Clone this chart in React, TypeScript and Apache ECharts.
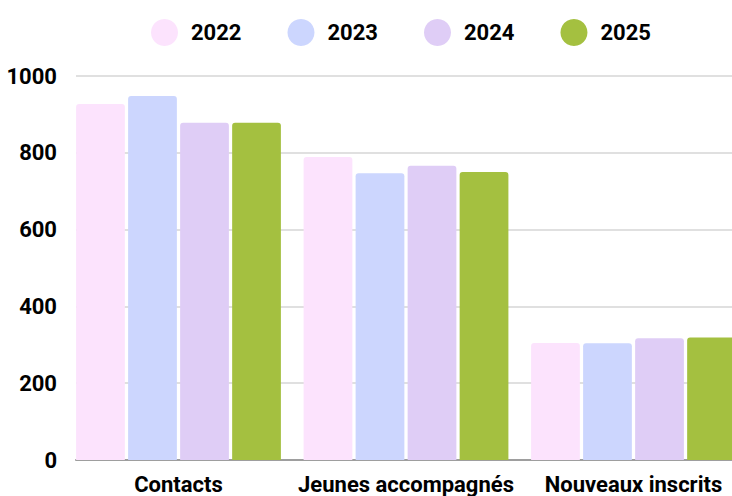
import React, { useEffect, useRef } from "react";
import * as echarts from "echarts";

const categories = ["Contacts", "Jeunes accompagnés", "Nouveaux inscrits"];
const years = ["2022", "2023", "2024", "2025"];
const values2022 = [927, 789, 305];
const values2023 = [948, 747, 304];
const values2024 = [878, 766, 317];
const values2025 = [878, 750, 319];
const colors = ["#FCE3FD", "#CCD6FE", "#DFCDF6", "#A4C040"];

const FONT = "Roboto, sans-serif";
const FS = 22;

export default function App() {
  const ref = useRef<HTMLDivElement>(null);
  useEffect(() => {
    if (!ref.current) return;
    const chart = echarts.init(ref.current, undefined, { renderer: "svg" });
    const seriesData = [values2022, values2023, values2024, values2025];
    chart.setOption({
      animation: false,
      textStyle: { fontFamily: FONT },
      legend: {
        data: years,
        left: 146,
        top: 14,
        icon: "circle",
        itemWidth: 27,
        itemHeight: 27,
        itemGap: 46,
        textStyle: {
          fontFamily: FONT,
          fontWeight: "bold",
          fontSize: FS,
          color: "#000",
          padding: [0, 0, 0, 8],
        },
      },
      grid: [
        { left: 76, right: 0, top: 76, bottom: 36, containLabel: false, outerBoundsMode: "none" },
        { left: 64.75, right: -15.25, top: 76, bottom: 36, containLabel: false, outerBoundsMode: "none" },
      ],
      xAxis: [
        {
          type: "category",
          gridIndex: 0,
          data: categories,
          axisLine: { show: true, lineStyle: { color: "#9e9e9e", width: 2 } },
          axisTick: { show: false },
          axisLabel: { show: false },
        },
        {
          type: "category",
          gridIndex: 1,
          data: categories,
          axisLine: { show: false },
          axisTick: { show: false },
          axisLabel: {
            interval: 0,
            fontFamily: FONT,
            fontWeight: "bold",
            fontSize: FS,
            color: "#000",
            margin: 13,
          },
        },
      ],
      yAxis: [
        {
          type: "value",
          gridIndex: 0,
          min: 0,
          max: 1000,
          interval: 200,
          axisLine: { show: false },
          axisTick: { show: false },
          axisLabel: {
            formatter: (v: number) => String(v),
            fontFamily: FONT,
            fontWeight: "bold",
            fontSize: FS,
            color: "#000",
            margin: 19,
          },
          splitLine: { lineStyle: { color: "#d6d6d6", width: 1.5 } },
        },
        {
          type: "value",
          gridIndex: 1,
          min: 0,
          max: 1000,
          interval: 200,
          show: false,
          splitLine: { show: false },
        },
      ],
      series: years.map((y, i) => ({
        name: y,
        type: "bar",
        xAxisIndex: 1,
        yAxisIndex: 1,
        data: seriesData[i],
        barWidth: 48.75,
        barGap: "6.7%",
        itemStyle: { color: colors[i], borderRadius: [3, 3, 0, 0] },
      })),
    });
    return () => chart.dispose();
  }, []);
  return (
    <div
      ref={ref}
      style={{ position: "absolute", left: 0, top: 0, width: 732, height: 496 }}
    />
  );
}
